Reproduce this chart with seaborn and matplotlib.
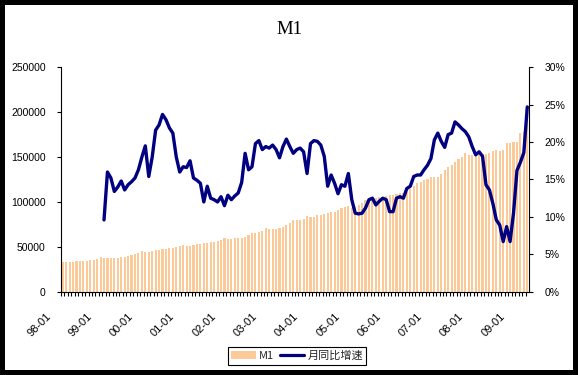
import numpy as np
import pandas as pd
import matplotlib
matplotlib.use("Agg")
import matplotlib.pyplot as plt
import matplotlib.transforms as mtransforms
from matplotlib.patches import Patch
from matplotlib.lines import Line2D
from matplotlib.ticker import FuncFormatter
import seaborn as sns

# monthly categories, 98-01 .. 09-04
months = pd.date_range("1998-01-01", periods=136, freq="MS").strftime("%y-%m").tolist()

# M1 level (bars, left axis)
m1 = [
    33400, 33100, 33300, 33500, 33700, 34000, 34200, 34500, 34900, 35600, 36100, 39000,
    37200, 37000, 37300, 37500, 37700, 38200, 38600, 39300, 40500, 41600, 43500, 45000,
    44300, 44600, 45200, 46400, 46800, 47300, 47900, 48400, 48700, 49300, 50500, 52500,
    51200, 51000, 52000, 52600, 53100, 53700, 54600, 54900, 55400, 56200, 57600, 59500,
    58800, 58600, 59300, 59500, 60200, 61400, 62800, 65000, 65900, 66800, 68000, 70600,
    69500, 69300, 70200, 70600, 72500, 74500, 77000, 79900, 79500, 79900, 81000, 84100,
    83000, 83500, 85400, 86000, 87000, 88000, 88400, 89100, 90500, 93000, 94700, 95900,
    92900, 94500, 96500, 99000, 102100, 102500, 103200, 104000, 105000, 105800, 106500, 107300,
    107500, 108900, 109600, 110200, 111400, 114500, 117500, 120800, 122000, 124000, 126000, 128100,
    127500, 128100, 131000, 135600, 138500, 141500, 144800, 147500, 150400, 154200, 152300, 152500,
    152300, 152600, 153000, 153300, 155000, 157000, 157800, 157000, 157800, 165300, 165800, 166500,
    167100, 176500, 178300, 188000,
]

# year-on-year growth in % (line, right axis), starts at 99-01
growth_start = "99-01"
growth = [
    9.6, 16.0, 15.2, 13.4, 14.0, 14.8, 13.6, 14.3, 14.7, 15.2, 16.3, 18.0,
    19.5, 15.4, 18.0, 21.6, 22.3, 23.7, 23.0, 21.9, 21.2, 18.0, 16.0, 16.7,
    16.6, 17.5, 15.2, 14.9, 14.5, 12.0, 14.1, 12.5, 12.3, 12.0, 12.7, 11.5,
    12.9, 12.3, 12.8, 13.2, 14.6, 18.5, 16.3, 16.7, 19.8, 20.2, 19.0, 19.4,
    19.2, 19.6, 19.0, 17.9, 19.4, 20.4, 19.4, 18.5, 19.0, 19.2, 18.7, 15.8,
    19.8, 20.2, 20.1, 19.6, 18.1, 14.1, 15.6, 14.5, 13.1, 14.3, 14.1, 15.8,
    12.3, 10.5, 10.4, 10.5, 11.2, 12.3, 12.5, 11.6, 12.1, 12.5, 12.3, 10.7,
    10.7, 12.5, 12.7, 12.5, 13.8, 14.1, 15.4, 15.6, 15.6, 16.3, 16.9, 17.8,
    20.3, 21.2, 20.1, 19.3, 21.0, 21.2, 22.7, 22.3, 21.8, 21.4, 20.7, 19.4,
    18.3, 18.7, 18.1, 14.3, 13.6, 11.8, 9.6, 8.9, 6.7, 8.7, 6.7, 10.5,
    16.2, 17.3, 18.6, 24.7,
]

left_ticks = [0, 50000, 100000, 150000, 200000, 250000]
right_ticks = [0, 5, 10, 15, 20, 25, 30]
label_every = 12

bar_color = "#FBCA98"
line_color = "#000080"

sns.set_theme(style="white")
plt.rcParams["font.family"] = ["Liberation Sans", "Noto Sans CJK SC", "DejaVu Sans"]

W, H = 578, 375
fig = plt.figure(figsize=(W / 100, H / 100), dpi=100)
fig.patch.set_facecolor("white")
fig.patch.set_edgecolor("black")
fig.patch.set_linewidth(7.2)

ax = fig.add_axes([61 / W, 1 - 291.7 / H, 468 / W, 224.4 / H])

df = pd.DataFrame({"month": months, "M1": m1})
sns.barplot(data=df, x="month", y="M1", color=bar_color, saturation=1,
            width=0.62, linewidth=0, ax=ax)

start = months.index(growth_start)
gdf = pd.DataFrame({"pos": np.arange(start, start + len(growth)), "growth": growth})
ax2 = ax.twinx()
sns.lineplot(data=gdf, x="pos", y="growth", color=line_color, linewidth=2.4,
             ax=ax2, solid_joinstyle="round")

ax.set_xlim(-0.5, len(months) - 0.5)
ax2.set_xlim(-0.5, len(months) - 0.5)
ax.set_ylim(0, 250000)
ax2.set_ylim(0, 30)
ax.set_xlabel("")
ax.set_ylabel("")
ax2.set_xlabel("")
ax2.set_ylabel("")

ax.set_yticks(left_ticks)
ax.yaxis.set_major_formatter(FuncFormatter(lambda v, p: f"{v:.0f}"))
ax2.set_yticks(right_ticks)
ax2.yaxis.set_major_formatter(FuncFormatter(lambda v, p: f"{v:.0f}%"))

# category ticks between bars, labels every 12 months
ax.set_xticks(np.arange(len(months)) - 0.5, minor=True)
ax.set_xticks(range(0, len(months), label_every))
ax.set_xticklabels(months[::label_every], rotation=45, ha="right")
ax.tick_params(axis="x", which="minor", bottom=True, direction="out", length=3,
               width=0.8, color="black")
ax.tick_params(axis="x", which="major", bottom=True, length=0, pad=14,
               labelsize=8, labelcolor="black")
offset = mtransforms.ScaledTranslation(-0.10, 0, fig.dpi_scale_trans)
for lab in ax.get_xticklabels():
    lab.set_transform(lab.get_transform() + offset)

ax.tick_params(axis="y", left=True, direction="out", length=3, width=0.8,
               color="black", labelsize=7.5, labelcolor="black", pad=8)
ax2.tick_params(axis="y", right=True, direction="out", length=3, width=0.8,
                color="black", labelsize=7.5, labelcolor="black", pad=8)

for a in (ax, ax2):
    a.grid(False)
    a.spines["top"].set_visible(False)
    for s in ("left", "right", "bottom"):
        a.spines[s].set_color("black")
        a.spines[s].set_linewidth(0.8)
ax.spines["right"].set_visible(False)
ax2.spines["left"].set_visible(False)
ax2.spines["bottom"].set_visible(False)

fig.text(0.5, 1 - 29.5 / H, "M1", ha="center", va="center",
         family="Liberation Serif", fontsize=13.5, color="black")

handles = [Patch(facecolor=bar_color, edgecolor="none"),
           Line2D([], [], color=line_color, linewidth=2.3)]
leg = fig.legend(handles, ["M1", "月同比增速"], loc="center",
                 bbox_to_anchor=(297 / W, 1 - 356 / H), ncol=2, frameon=True,
                 fancybox=False, edgecolor="black", framealpha=1,
                 prop={"family": ["Noto Sans CJK SC"], "size": 8},
                 handlelength=2.2, handletextpad=0.3, columnspacing=0.5,
                 borderpad=0.3)
leg.get_frame().set_linewidth(0.8)

fig.savefig("out.png", dpi=100)
